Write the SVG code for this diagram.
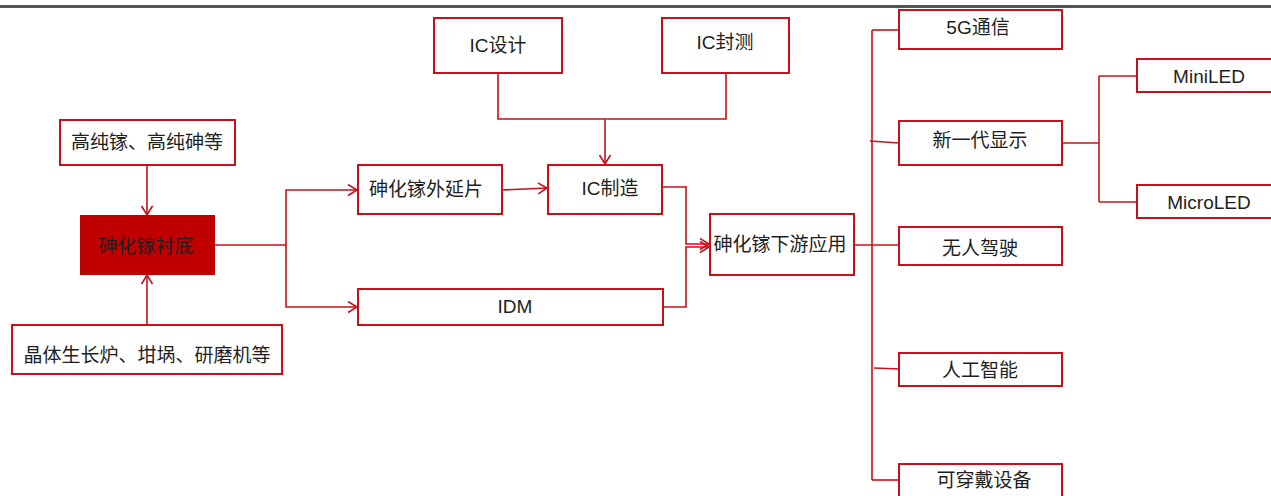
<svg xmlns="http://www.w3.org/2000/svg" width="1271" height="496" viewBox="0 0 1271 496">
<style>
.box{fill:#fff;stroke:#c8101a;stroke-width:2}
.fill{fill:#c00000;stroke:#c00000;stroke-width:2}
text{font-family:"Liberation Sans","Noto Sans CJK SC",sans-serif;font-size:19px;fill:#1e1e1e;text-anchor:middle;dominant-baseline:central}
.ln{fill:none;stroke:#c8101a;stroke-width:1.6}
.ar{marker-end:url(#arr)}
</style>
<defs>
<marker id="arr" markerUnits="userSpaceOnUse" markerWidth="12" markerHeight="14" refX="10" refY="6" orient="auto">
<path d="M1,0.5 L10,6 L1,11.5" fill="none" stroke="#c8101a" stroke-width="1.6"/>
</marker>
</defs>
<rect x="0" y="5" width="1271" height="3" fill="#555"/>
<g id="connectors">
<path class="ln ar" d="M147,165 V215"/>
<path class="ln ar" d="M147,325 V275"/>
<path class="ln" d="M214,245 H286"/>
<path class="ln ar" d="M286,245 V190 H357"/>
<path class="ln ar" d="M286,245 V307 H357"/>
<path class="ln ar" d="M502,190 L547,188"/>
<path class="ln" d="M498,73 V119 H726 V73"/>
<path class="ln ar" d="M605,119 V164"/>
<path class="ln ar" d="M662,187 H686 V244 H709"/>
<path class="ln ar" d="M663,307 H686 V247 H709"/>
<path class="ln" d="M854,245 H899"/>
<path class="ln" d="M872,30 V480"/>
<path class="ln" d="M872,30 H899"/>
<path class="ln" d="M870,141 L899,143"/>
<path class="ln" d="M874,368 L899,369"/>
<path class="ln" d="M872,480 H899"/>
<path class="ln" d="M1062,143 H1099"/>
<path class="ln" d="M1099,76 V202"/>
<path class="ln" d="M1099,76 H1137"/>
<path class="ln" d="M1099,202 H1137"/>
</g>
<g id="n-gaochun"><rect class="box" x="60" y="120" width="175" height="45"/><text x="147" y="142">高纯镓、高纯砷等</text></g>
<g id="n-substrate"><rect class="fill" x="81" y="216" width="133" height="58"/><text x="146" y="246">砷化镓衬底</text></g>
<g id="n-equip"><rect class="box" x="12" y="325" width="270" height="49"/><text x="147" y="355">晶体生长炉、坩埚、研磨机等</text></g>
<g id="n-epi"><rect class="box" x="358" y="165" width="144" height="49"/><text x="426" y="189">砷化镓外延片</text></g>
<g id="n-icdesign"><rect class="box" x="434" y="18" width="128" height="55"/><text x="498" y="45">IC设计</text></g>
<g id="n-icpack"><rect class="box" x="662" y="18" width="127" height="55"/><text x="725" y="42">IC封测</text></g>
<g id="n-icfab"><rect class="box" x="548" y="165" width="114" height="49"/><text x="610" y="188">IC制造</text></g>
<g id="n-idm"><rect class="box" x="358" y="289" width="305" height="36"/><text x="515" y="306">IDM</text></g>
<g id="n-downstream"><rect class="box" x="710" y="214" width="144" height="61"/><text x="780" y="244">砷化镓下游应用</text></g>
<g id="n-5g"><rect class="box" x="899" y="10" width="163" height="39"/><text x="978" y="27">5G通信</text></g>
<g id="n-display"><rect class="box" x="899" y="121" width="163" height="44"/><text x="980" y="140">新一代显示</text></g>
<g id="n-auto"><rect class="box" x="899" y="227" width="163" height="38"/><text x="980" y="248">无人驾驶</text></g>
<g id="n-ai"><rect class="box" x="899" y="353" width="163" height="33"/><text x="980" y="370">人工智能</text></g>
<g id="n-wear"><rect class="box" x="899" y="464" width="163" height="40"/><text x="984" y="480">可穿戴设备</text></g>
<g id="n-mini"><rect class="box" x="1137" y="59" width="140" height="33"/><text x="1209" y="76">MiniLED</text></g>
<g id="n-micro"><rect class="box" x="1137" y="185" width="140" height="33"/><text x="1209" y="202">MicroLED</text></g>
</svg>
